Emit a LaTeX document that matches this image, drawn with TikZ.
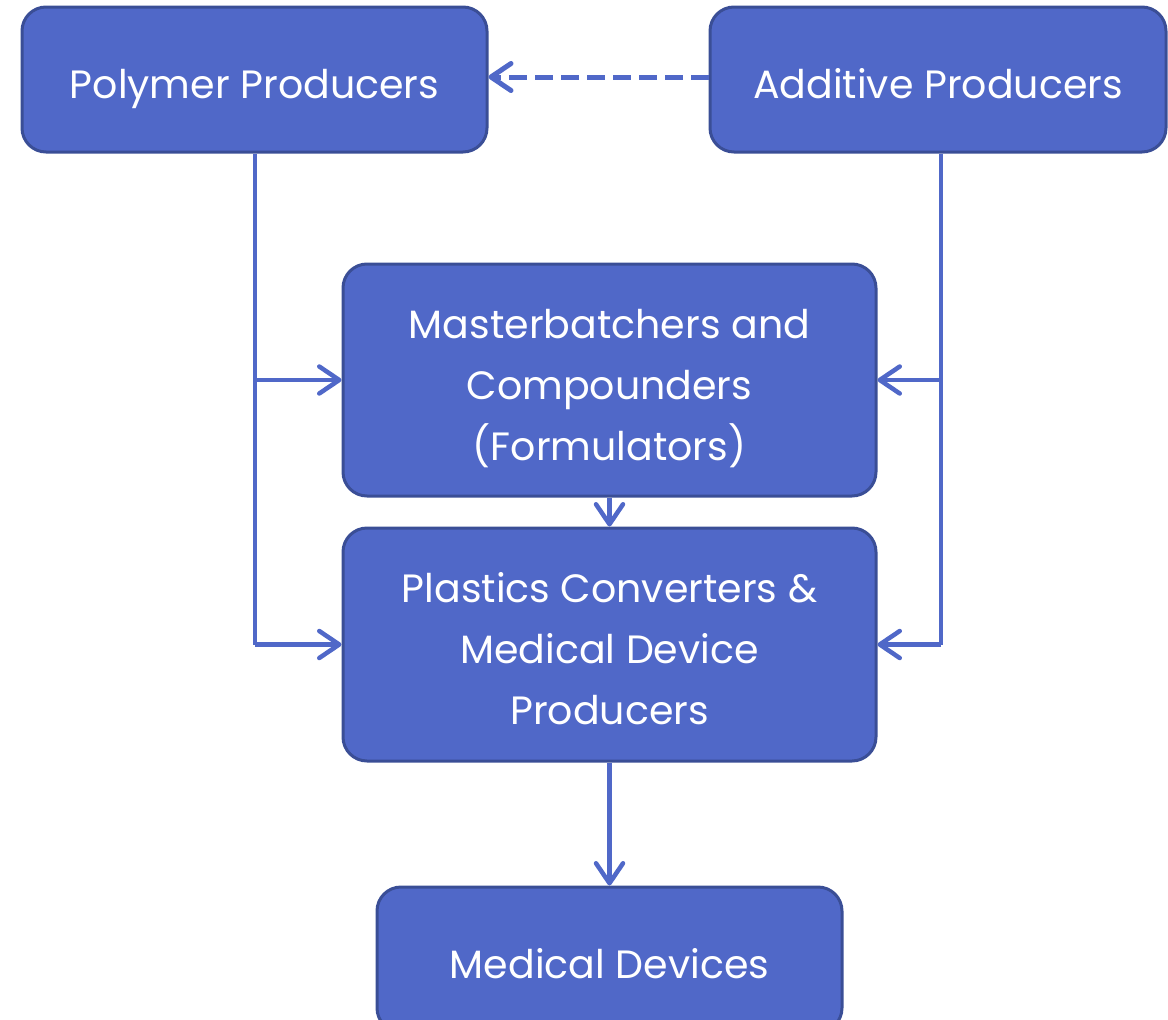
\documentclass[tikz,border=0pt]{standalone}
\usepackage{fontspec}
\setmainfont{Poppins}
\usetikzlibrary{arrows.meta}
\definecolor{boxfill}{RGB}{80,104,200}
\definecolor{boxdraw}{RGB}{58,78,150}
\definecolor{linkcol}{RGB}{80,104,200}
\tikzset{
  box/.style={draw=boxdraw, fill=boxfill, line width=3pt, rounded corners=24pt,
    text=white, align=center, font=\fontsize{39.5}{61}\selectfont, inner sep=0pt},
  oneline/.style={text height=38pt, text depth=0pt},
  threeline/.style={text height=160pt, text depth=0pt},
  link/.style={draw=linkcol, line width=4.5pt,
    -{Straight Barb[length=20pt,width=27pt,round]}},
  plain/.style={draw=linkcol, line width=4.5pt},
}
\begin{document}
\begin{tikzpicture}[x=1pt,y=-1pt]
\useasboundingbox (0,0) rectangle (1168,1020);
\node[box, oneline, minimum width=465pt, minimum height=145pt] (poly) at (254.5,79.5) {Polymer Producers};
\node[box, oneline, minimum width=456pt, minimum height=145pt] (add) at (938,79.5) {Additive Producers};
\node[box, threeline, minimum width=533pt, minimum height=232pt] (master) at (609.5,380) {Masterbatchers and\\Compounders\\(Formulators)};
\node[box, threeline, minimum width=533pt, minimum height=233pt] (conv) at (609.5,644.5) {Plastics Converters \&\\Medical Device\\Producers};
\node[box, oneline, minimum width=465pt, minimum height=145pt] (dev) at (609.5,959.5) {Medical Devices};
\coordinate (lc) at (255,644.5);
\coordinate (lb) at (255,380);
\coordinate (rc) at (941,644.5);
\coordinate (rb) at (941,380);
\draw[link, line width=5pt, dashed, dash pattern=on 18pt off 8pt] (add.west |- 0,77) -- (poly.east |- 0,77);
\draw[plain] (poly.south -| lc) -- (lc);
\draw[link] (lc) -- (conv.west |- lc);
\draw[link] (lb) -- (master.west |- lb);
\draw[plain] (add.south -| rc) -- (rc);
\draw[link] (rc) -- (conv.east |- rc);
\draw[link] (rb) -- (master.east |- rb);
\draw[link] (master.south) -- (conv.north);
\draw[link] (conv.south) -- (dev.north);
\end{tikzpicture}
\end{document}
